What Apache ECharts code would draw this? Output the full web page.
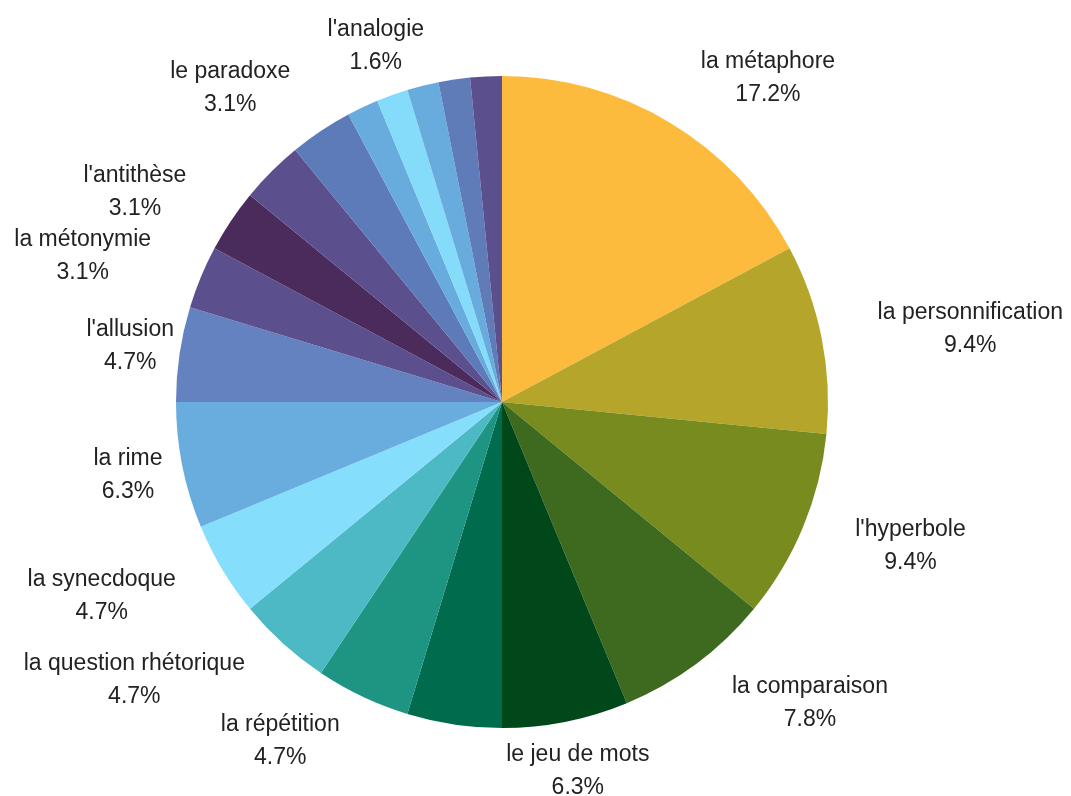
<!DOCTYPE html>
<html>
<head>
<meta charset="utf-8">
<style>
  html, body { margin: 0; padding: 0; background: #ffffff; }
  #chart { width: 1071px; height: 796px; }
</style>
<script src="https://cdn.jsdelivr.net/npm/echarts@6/dist/echarts.min.js"></script>
</head>
<body>
<div id="chart"></div>
<script>
// Figures of speech and how often each one occurs (64 occurrences in total).
// Slices with an empty name are drawn without a label.
const categories = [
  'la métaphore', 'la personnification', "l'hyperbole", 'la comparaison',
  'le jeu de mots', '', 'la répétition', 'la question rhétorique',
  'la synecdoque', 'la rime', "l'allusion", 'la métonymie',
  "l'antithèse", 'le paradoxe', '', "l'analogie", '', '', '', ''
];
const counts = [11, 6, 6, 5, 4, 3, 3, 3, 3, 4, 3, 2, 2, 2, 2, 1, 1, 1, 1, 1];

// Slice colours, clockwise from twelve o'clock.
const sliceColors = [
  '#fdbb3e', '#b5a52a', '#778b1f', '#3e6a1f', '#00471a', '#016b4d',
  '#1e9483', '#4cb9c5', '#85defc', '#69addf', '#6482c0', '#5b4f8e',
  '#4b2a5c', '#5b4f8e', '#5d7ab9', '#68acde', '#84dbfa', '#68acde',
  '#5f7bb8', '#5b4f8e'
];

// Label placement: angle (degrees clockwise from twelve o'clock) and
// distance from the pie centre for the centre of each two-line label.
const labelAngle = [39.4, 81.1, 109.4, 134.4, 168.4, null, 213.2, 232.9,
  244.1, 259.0, 278.6, 289.2, 299.8, 319.1, null, 340.5, null, null, null, null];
const labelDist = [419, 474, 433, 431, 377, null, 405, 461,
  445, 381, 376, 444, 423, 415, null, 378, null, null, null, null];

const CX = 502, CY = 402, R = 326;
const total = counts.reduce((s, v) => s + v, 0);

const data = categories.map((name, i) => ({
  name: name,
  value: counts[i],
  itemStyle: { color: sliceColors[i] },
  label: { show: labelAngle[i] != null }
}));

const chart = echarts.init(document.getElementById('chart'), null, { renderer: 'canvas' });
chart.setOption({
  backgroundColor: '#ffffff',
  animation: false,
  series: [{
    type: 'pie',
    center: [CX, CY],
    radius: [0, R],
    startAngle: 90,
    clockwise: true,
    avoidLabelOverlap: false,
    data: data,
    itemStyle: { borderWidth: 0 },
    label: {
      position: 'outside',
      formatter: p => p.name + '\n' + (p.value / total * 100).toFixed(1) + '%',
      fontFamily: '"Liberation Sans", Arial, sans-serif',
      fontSize: 23,
      lineHeight: 33,
      color: '#222222',
      align: 'center'
    },
    labelLine: { show: false },
    labelLayout: function (p) {
      const a = labelAngle[p.dataIndex];
      if (a == null) return {};
      const rad = a * Math.PI / 180;
      const d = labelDist[p.dataIndex];
      return {
        x: CX + d * Math.sin(rad),
        y: CY - d * Math.cos(rad),
        align: 'center',
        verticalAlign: 'middle'
      };
    },
    emphasis: { disabled: true }
  }]
});
</script>
</body>
</html>
